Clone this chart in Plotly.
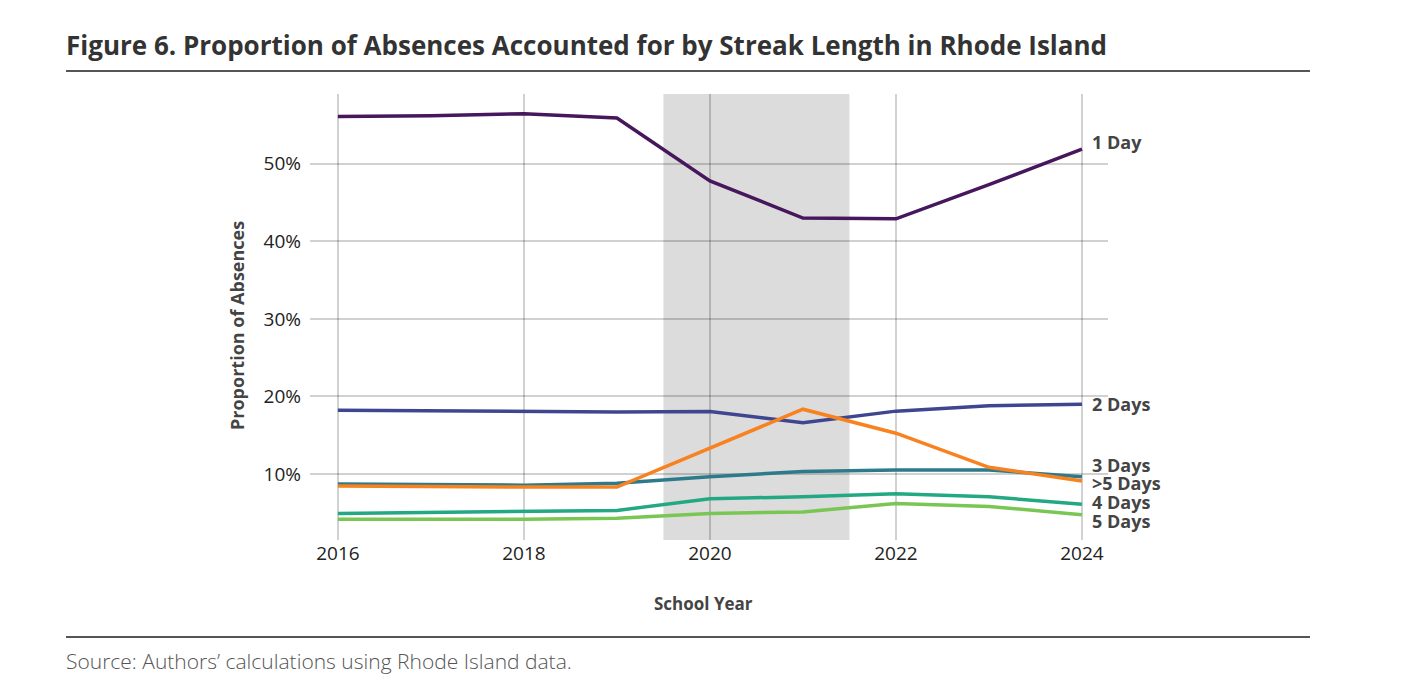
import plotly.graph_objects as go

years = [2016, 2017, 2018, 2019, 2020, 2021, 2022, 2023, 2024]
series_names = ["1 Day", "2 Days", "3 Days", ">5 Days", "4 Days", "5 Days"]
one_day = [56.1, 56.2, 56.45, 55.9, 47.8, 43.0, 42.9, 47.3, 51.9]
two_days = [18.2, 18.1, 18.0, 18.0, 18.05, 16.6, 18.1, 18.8, 19.0]
three_days = [8.7, 8.65, 8.55, 8.8, 9.65, 10.3, 10.5, 10.5, 9.65]
more_than_five = [8.45, 8.35, 8.3, 8.3, 13.3, 18.35, 15.25, 10.85, 9.1]
four_days = [4.9, 5.0, 5.1, 5.3, 6.8, 7.05, 7.45, 7.05, 6.1]
five_days = [4.15, 4.15, 4.15, 4.3, 4.9, 5.1, 6.2, 5.8, 4.75]
y_ticks = [10, 20, 30, 40, 50]
y_tick_labels = ["10%", "20%", "30%", "40%", "50%"]
x_ticks = [2016, 2018, 2020, 2022, 2024]
x_tick_labels = ["2016", "2018", "2020", "2022", "2024"]
shade_span = [2019.5, 2021.5]

values = [one_day, two_days, three_days, more_than_five, four_days, five_days]
colors = ["#46175c", "#3f4690", "#2d7a8c", "#f7821f", "#23a884", "#7ac654"]
label_shift = [7, 0, 12, -2, 2, -6]

# page offset of the figure (default body margin)
OFF = 8
W, H = 1410, 690
L, R, T, B = 310, 1108, 94, 540  # plot area in page pixels


def px(x):
    return (x - L) / (R - L)


def py(y):
    return (B - y) / (B - T)


fig = go.Figure()
for name, vals, col in zip(series_names, values, colors):
    fig.add_trace(go.Scatter(x=years, y=vals, mode="lines", name=name,
                             line=dict(color=col, width=3.5), hoverinfo="x+y+name"))

for name, vals, col, sh in zip(series_names, values, colors, label_shift):
    fig.add_annotation(x=years[-1], y=vals[-1], xref="x", yref="y", text="<b>%s</b>" % name,
                       showarrow=False, xanchor="left", yanchor="middle", xshift=8, yshift=sh,
                       font=dict(family="Open Sans", size=18, color="#444444"))

fig.add_shape(type="rect", x0=shade_span[0], x1=shade_span[1], y0=0, y1=1,
              xref="x", yref="paper", fillcolor="#dcdcdc", line_width=0, layer="below")

for yy in (71, 637):
    fig.add_shape(type="line", x0=px(66), x1=px(1310), y0=py(yy), y1=py(yy),
                  xref="paper", yref="paper", line=dict(color="#555555", width=2))

fig.add_annotation(x=px(64), y=py(45), xref="paper", yref="paper",
                   text="<b>Figure 6. Proportion of Absences Accounted for by Streak Length in Rhode Island</b>",
                   showarrow=False, xanchor="left", yanchor="middle",
                   font=dict(family="Open Sans", size=26, color="#333333"))
fig.add_annotation(x=px(64), y=py(661), xref="paper", yref="paper",
                   text="Source: Authors\u2019 calculations using Rhode Island data.",
                   showarrow=False, xanchor="left", yanchor="middle",
                   font=dict(family="Open Sans", size=21, color="#555555", weight=300))
fig.add_annotation(x=px(237), y=py(326), xref="paper", yref="paper",
                   text="<b>Proportion of Absences</b>", textangle=-90,
                   showarrow=False, xanchor="center", yanchor="middle",
                   font=dict(family="Open Sans", size=18, color="#444444"))
fig.add_annotation(x=px(703), y=py(603), xref="paper", yref="paper",
                   text="<b>School Year</b>",
                   showarrow=False, xanchor="center", yanchor="middle",
                   font=dict(family="Open Sans", size=17, color="#444444"))

grid = "rgba(0,0,0,0.18)"
fig.update_layout(
    width=W, height=H,
    margin=dict(l=L - OFF, r=W - (R - OFF), t=T - OFF, b=H - (B - OFF)),
    paper_bgcolor="white", plot_bgcolor="white",
    showlegend=False,
    xaxis=dict(range=[2015.7, 2024.28], tickvals=x_ticks, ticktext=x_tick_labels,
               showgrid=True, gridcolor=grid,
               gridwidth=1.5, zeroline=False, showline=False, ticks="",
               tickfont=dict(family="Open Sans", size=19, color="#222222")),
    yaxis=dict(range=[1.48, 59.0], tickvals=y_ticks, ticktext=y_tick_labels, showgrid=True,
               gridcolor=grid, gridwidth=1.5, zeroline=False, showline=False, ticks="",
               ticklabelstandoff=8,
               tickfont=dict(family="Open Sans", size=19, color="#222222")),
)

fig.write_html("out.html")
